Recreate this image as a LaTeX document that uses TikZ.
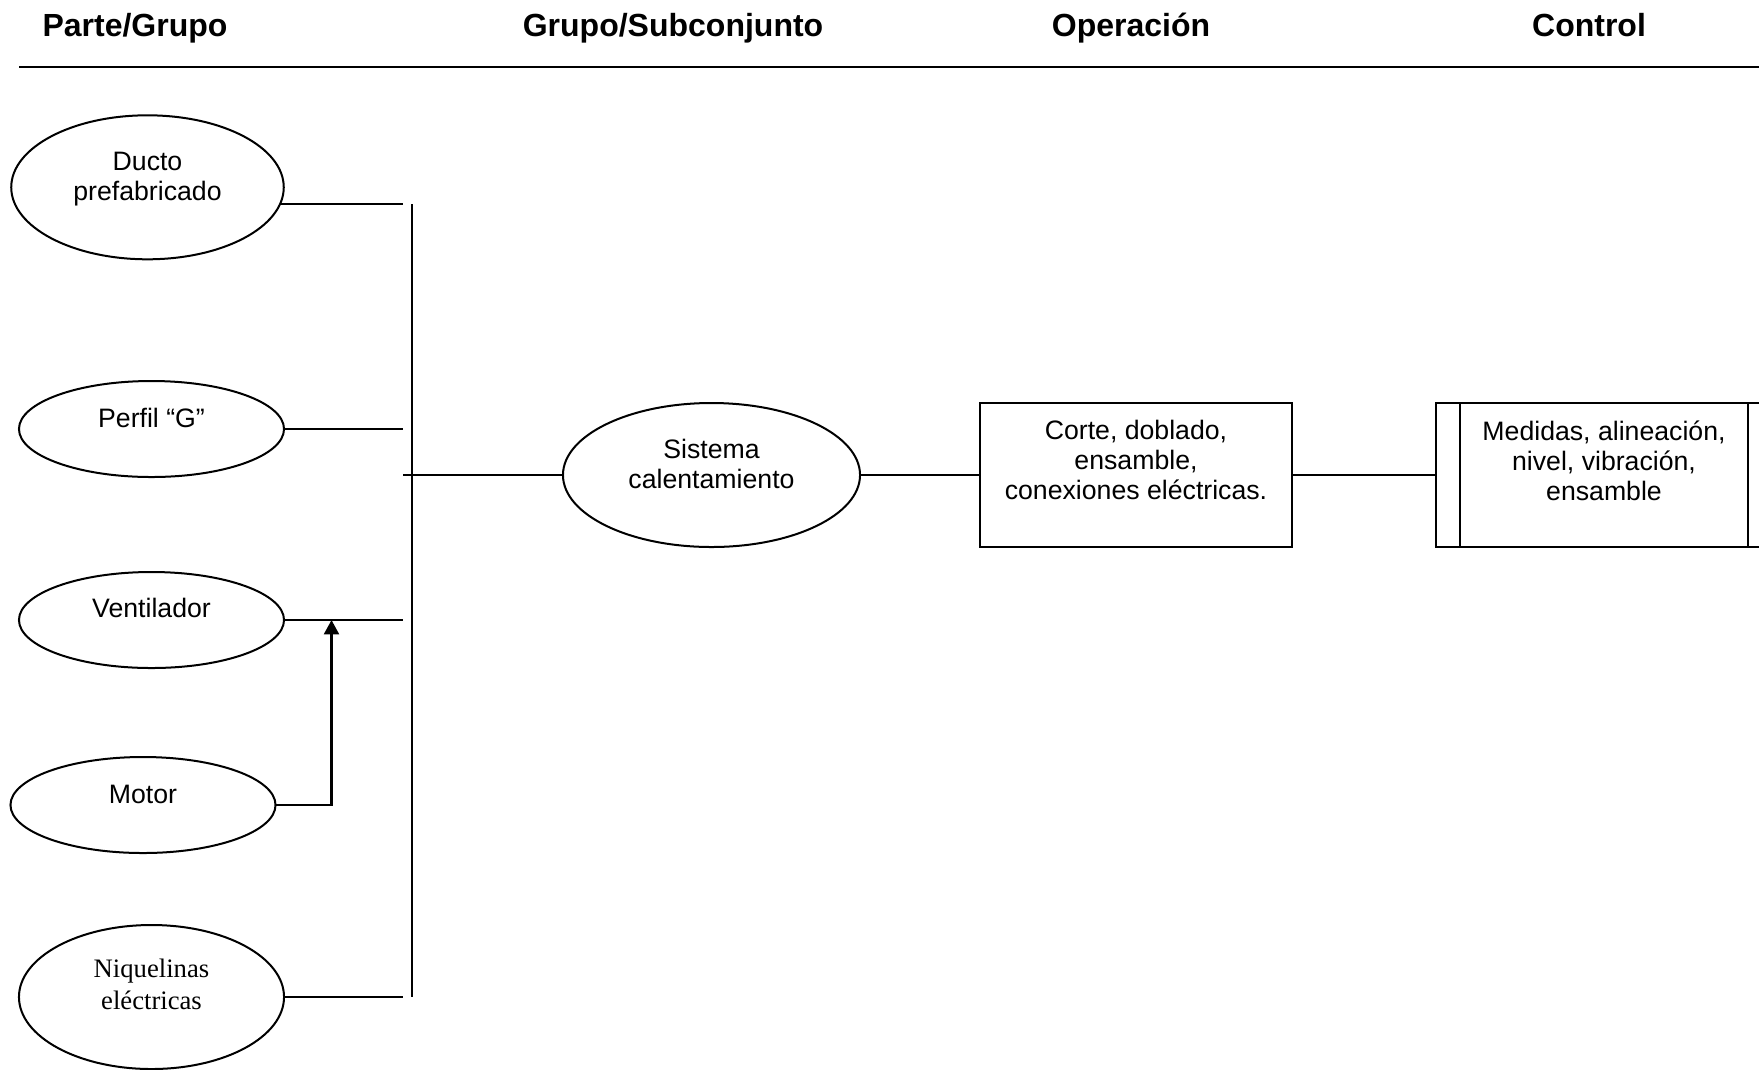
\documentclass[tikz,border=0pt]{standalone}
\usepackage{fontspec}
\setmainfont{Liberation Sans}
\newfontfamily\nqfont{Liberation Serif}
\usepackage{tikz}
\usetikzlibrary{arrows.meta,shapes.geometric}

\begin{document}
\begin{tikzpicture}[x=0.375pt,y=-0.375pt,line width=0.75pt,
  head/.style={anchor=base,inner sep=0pt,font=\fontsize{12}{14}\selectfont\bfseries},
  part/.style={draw,ellipse,inner sep=0pt,outer sep=0pt,minimum width=99.4pt,minimum height=36pt},
  bigpart/.style={part,minimum height=54pt},
  opbox/.style={draw,rectangle,inner sep=0pt,outer sep=0pt,minimum height=54pt},
  txt/.style={align=center,inner sep=0pt,font=\fontsize{10}{11.25}\selectfont}]
  \useasboundingbox (0,0) rectangle (1759,1069);
  \node[head] (hparte) at (135,36) {Parte/Grupo};
  \node[head] (hgrupo) at (673,36) {Grupo/Subconjunto};
  \node[head] (hoper) at (1131,36) {Operación};
  \node[head] (hcontrol) at (1589,36) {Control};
  \draw[line width=1pt] (19,67) -- (1759,67);

  \node[bigpart,minimum width=102.2pt] (ducto) at (147.5,187.3) {};
  \node[txt] (ductot) at (147.5,179) {Ducto\\prefabricado};
  \node[part] (perfil) at (151.5,429) {};
  \node[txt] (perfilt) at (151.5,418) {Perfil “G”};
  \node[part] (vent) at (151.5,620) {};
  \node[txt] (ventt) at (151.5,608) {Ventilador};
  \node[part] (motor) at (143,805) {};
  \node[txt] (motort) at (143,794) {Motor};
  \node[bigpart] (niq) at (151.5,997) {};
  \node[txt,font=\nqfont\fontsize{10}{11.9}\selectfont] (niqt) at (151.5,984.5) {Niquelinas\\eléctricas};

  \coordinate (bustop) at (411.7,204);
  \coordinate (busbot) at (411.7,997);
  \coordinate (jn) at (403,475);
  \coordinate (mj) at (331.5,620);
  \draw (bustop) -- (busbot);
  \draw (ducto.-7) -- (ducto.-7 -| jn);
  \draw (perfil.east) -- (perfil.east -| jn);
  \draw (vent.east) -- (vent.east -| jn);
  \draw (niq.east) -- (niq.east -| jn);
  \draw[-{Triangle[length=5.4pt,width=5.6pt]},line width=0.9pt] (motor.east) -| (mj);

  \node[bigpart,minimum width=111.4pt] (sis) at (711.5,475) {};
  \node[txt] (sist) at (711.5,464) {Sistema\\calentamiento};
  \node[opbox,minimum width=117.2pt] (oper) at (1136,475) {};
  \node[txt] (opert) at (1136,460) {Corte, doblado,\\ensamble,\\conexiones eléctricas.};
  \node[opbox,minimum width=126pt] (ctrl) at (1604,475) {};
  \node[txt] (ctrlt) at (1604,461) {Medidas, alineación,\\nivel, vibración,\\ensamble};
  \draw ([xshift=9pt]ctrl.north west) -- ([xshift=9pt]ctrl.south west);
  \draw ([xshift=-9pt]ctrl.north east) -- ([xshift=-9pt]ctrl.south east);

  \draw (jn) -- (sis.west);
  \draw (sis.east) -- (oper.west);
  \draw (oper.east) -- (ctrl.west);
\end{tikzpicture}
\end{document}
